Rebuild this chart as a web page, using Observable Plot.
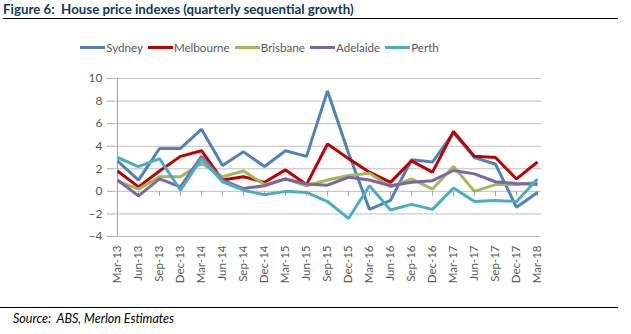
<!DOCTYPE html>
<html>
<head>
<meta charset="utf-8">
<script src="https://cdn.jsdelivr.net/npm/d3@7"></script>
<script src="https://cdn.jsdelivr.net/npm/@observablehq/plot@0.6"></script>
<style>
  html, body { margin: 0; padding: 0; background: #fff; }
  body { width: 631px; height: 334px; position: relative; overflow: hidden; font-family: Lato, "Liberation Sans", sans-serif; }
  #title { position: absolute; left: 3px; top: 1px; font-size: 13.3px; font-weight: bold; color: #0f3a57; white-space: nowrap; }
  #rule1 { position: absolute; left: 3px; top: 18px; width: 615px; border-top: 1.5px solid #000; }
  #legend { position: absolute; left: 0; top: 41px; width: 631px; display: flex; justify-content: center; padding-right: 107px; box-sizing: border-box; font-size: 11.6px; color: #595959; }
  #legend .item { display: flex; align-items: center; margin-right: 5px; }
  #legend .sw { width: 25px; height: 3px; margin-right: 1px; }
  #chart { position: absolute; left: 0; top: 60px; }
  #rule2 { position: absolute; left: 0; top: 307px; width: 618px; border-top: 1px solid #000; }
  #source { position: absolute; left: 13px; top: 311px; font-size: 12.5px; font-style: italic; color: #000; white-space: nowrap; }
</style>
</head>
<body>
<div id="title">Figure 6:&nbsp; House price indexes (quarterly sequential growth)</div>
<div id="rule1"></div>
<div id="legend"></div>
<div id="chart"></div>
<div id="rule2"></div>
<div id="source">Source:&nbsp; ABS, Merlon Estimates</div>
<script>
const quarters = ["Mar-13","Jun-13","Sep-13","Dec-13","Mar-14","Jun-14","Sep-14","Dec-14","Mar-15","Jun-15","Sep-15","Dec-15","Mar-16","Jun-16","Sep-16","Dec-16","Mar-17","Jun-17","Sep-17","Dec-17","Mar-18"];
const cities = ["Sydney","Melbourne","Brisbane","Adelaide","Perth"];
const colors = ["#4F81BD","#C00000","#9BBB59","#8064A2","#4BACC6"];
const sydney    = [2.7, 1.0, 3.8, 3.8, 5.5, 2.3, 3.5, 2.2, 3.6, 3.1, 8.9, 3.4, -1.6, -0.8, 2.8, 2.6, 5.2, 3.0, 2.4, -1.4, -0.1];
const melbourne = [1.8, 0.4, 1.8, 3.1, 3.6, 1.0, 1.3, 0.8, 1.9, 0.6, 4.2, 2.9, 1.7, 0.8, 2.7, 1.7, 5.3, 3.1, 3.0, 1.1, 2.6];
const brisbane  = [0.9, 0.2, 1.3, 1.3, 2.5, 1.3, 1.8, 0.6, 1.1, 0.5, 1.0, 1.4, 1.6, 0.4, 1.1, 0.2, 2.2, 0.0, 0.6, 0.6, 0.8];
const adelaide  = [1.0, -0.4, 1.1, 0.4, 3.1, 1.0, 0.25, 0.5, 1.1, 0.65, 0.55, 1.25, 1.0, 0.5, 0.8, 0.95, 1.85, 1.55, 0.85, 0.7, 0.6];
const perth     = [3.0, 2.2, 2.9, 0.1, 2.9, 0.85, 0.1, -0.3, 0.0, -0.1, -0.9, -2.4, 0.5, -1.65, -1.15, -1.6, 0.3, -0.9, -0.8, -0.9, 1.1];
const yTicks = [-4, -2, 0, 2, 4, 6, 8, 10];

const seriesValues = [sydney, melbourne, brisbane, adelaide, perth];
const rows = [];
cities.forEach((c, i) => seriesValues[i].forEach((v, j) => rows.push({city: c, q: quarters[j], v})));

// legend
const legend = document.getElementById("legend");
cities.forEach((c, i) => {
  const it = document.createElement("div");
  it.className = "item";
  const sw = document.createElement("div");
  sw.className = "sw";
  sw.style.background = colors[i];
  const t = document.createElement("span");
  t.textContent = c;
  it.appendChild(sw); it.appendChild(t);
  legend.appendChild(it);
});

const chart = Plot.plot({
  width: 631,
  height: 234,
  marginTop: 18,
  marginBottom: 58,
  marginLeft: 113,
  marginRight: 90,
  style: {fontFamily: "Lato, 'Liberation Sans', sans-serif", background: "#fff"},
  x: {type: "point", domain: quarters, padding: 0},
  y: {domain: [-4, 10]},
  color: {domain: cities, range: colors},
  marks: [
    Plot.ruleY(yTicks, {stroke: "#bfbfbf", strokeOpacity: 1, strokeWidth: 1}),
    Plot.ruleX([quarters[0]], {stroke: "#a6a6a6", strokeWidth: 1}),
    Plot.ruleX(quarters, {x: d => d, y1: 0, y2: -0.45, stroke: "#a6a6a6"}),
    Plot.axisY(yTicks, {tickSize: 6, tickPadding: 5, stroke: "#a6a6a6", fill: "#595959", fontSize: 12, label: null}),
    Plot.axisX(quarters, {tickSize: 0, tickPadding: 9, tickRotate: -90, fill: "#595959", fontSize: 11.5, label: null}),
    Plot.line(rows, {x: "q", y: "v", z: "city", stroke: "city", strokeWidth: 3, strokeLinejoin: "miter", strokeLinecap: "butt"})
  ]
});
document.getElementById("chart").appendChild(chart);
</script>
</body>
</html>
